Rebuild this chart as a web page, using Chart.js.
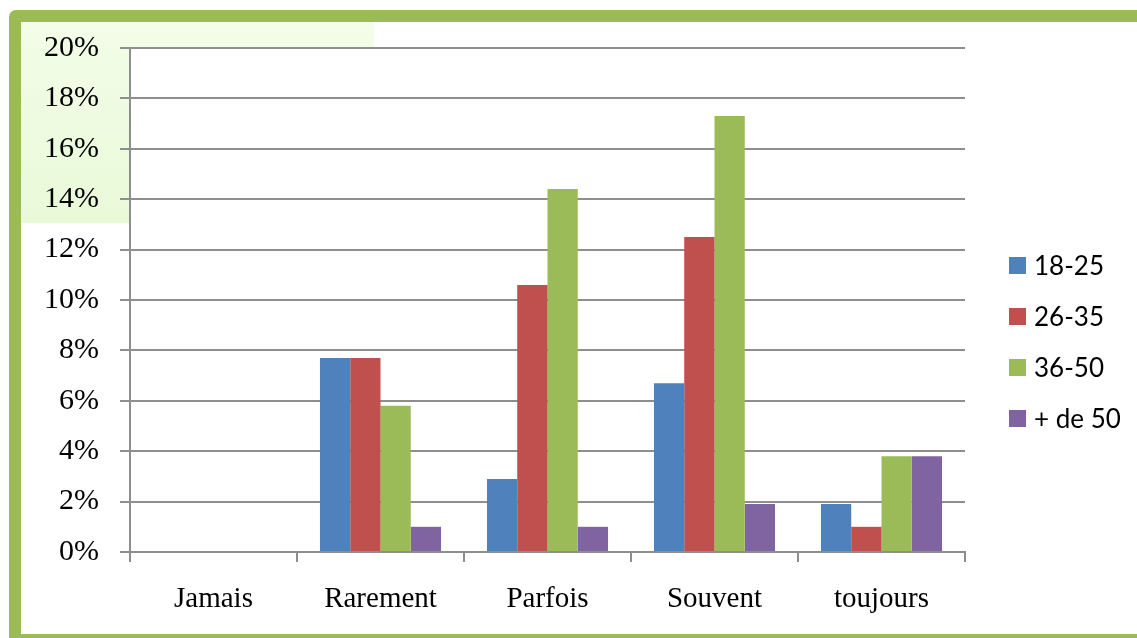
<!DOCTYPE html>
<html>
<head>
<meta charset="utf-8">
<script src="https://cdn.jsdelivr.net/npm/chart.js@4.4.1/dist/chart.umd.min.js"></script>
<style>
  html, body { margin: 0; padding: 0; background: #ffffff; overflow: hidden; }
  #wrap { position: relative; width: 1137px; height: 638px; overflow: hidden; }
  #frame {
    position: absolute; left: 9px; top: 10px; right: -20px; bottom: -8px;
    border: 12px solid #9bbb59; border-radius: 7px; box-sizing: border-box;
  }
  #shade {
    position: absolute; left: 21px; top: 22px; width: 353px; height: 201px;
    background: linear-gradient(to bottom, #f3fde8, #e9f9d8);
  }
  #holder { position: absolute; left: 0; top: 0; width: 1137px; height: 638px; }
</style>
</head>
<body>
<div id="wrap">
  <div id="frame"></div>
  <div id="shade"></div>
  <div id="holder"><canvas id="c"></canvas></div>
</div>
<script>
// Frequency categories and age groups
const categories = ['Jamais', 'Rarement', 'Parfois', 'Souvent', 'toujours'];
const seriesLabels = ['18-25', '26-35', '36-50', '+ de 50'];
const seriesColors = ['#4f81bd', '#c0504d', '#9bbb59', '#8064a2'];

// Share of respondents (%) per category, one array per age group
const age18to25 = [0, 7.7, 2.9, 6.7, 1.9];
const age26to35 = [0, 7.7, 10.6, 12.5, 1.0];
const age36to50 = [0, 5.8, 14.4, 17.3, 3.8];
const age50plus = [0, 1.0, 1.0, 1.9, 3.8];

const seriesValues = [age18to25, age26to35, age36to50, age50plus];

const yMin = 0, yMax = 20, yStep = 2;

const gridColor = '#8e8e8e';

// White plot background over the shaded panel
const plotBackground = {
  id: 'plotBackground',
  beforeDraw(chart) {
    const { ctx, chartArea: a } = chart;
    ctx.save();
    ctx.fillStyle = '#ffffff';
    ctx.fillRect(a.left, a.top, a.right - a.left, a.bottom - a.top);
    ctx.restore();
  }
};

// Legend drawn to the right of the plot
const sideLegend = {
  id: 'sideLegend',
  afterDraw(chart) {
    const ctx = chart.ctx;
    ctx.save();
    ctx.font = '26px Lato, "Open Sans", sans-serif';
    ctx.textBaseline = 'middle';
    ctx.textAlign = 'left';
    chart.data.datasets.forEach((ds, i) => {
      const cy = 265.5 + i * 51;
      ctx.fillStyle = ds.backgroundColor;
      ctx.fillRect(1009, cy - 8.5, 17, 17);
      ctx.fillStyle = '#000000';
      ctx.fillText(ds.label, 1034, cy + 1);
    });
    ctx.restore();
  }
};

new Chart(document.getElementById('c'), {
  type: 'bar',
  data: {
    labels: categories,
    datasets: seriesLabels.map((label, i) => ({
      label: label,
      data: seriesValues[i],
      backgroundColor: seriesColors[i],
      borderWidth: 0,
      categoryPercentage: 0.725,
      barPercentage: 1.0
    }))
  },
  options: {
    responsive: true,
    maintainAspectRatio: false,
    animation: false,
    layout: { padding: { top: 48, left: 0, right: 172, bottom: 0 } },
    plugins: {
      legend: { display: false },
      tooltip: { enabled: false }
    },
    scales: {
      x: {
        afterFit(scale) { scale.height = 86; },
        grid: {
          drawOnChartArea: false,
          drawTicks: true,
          tickLength: 10,
          color: gridColor,
          lineWidth: 2
        },
        border: { display: true, color: gridColor, width: 2 },
        ticks: {
          color: '#000000',
          padding: 20,
          font: { family: '"Liberation Serif", "Times New Roman", serif', size: 29 }
        }
      },
      y: {
        min: yMin,
        max: yMax,
        afterFit(scale) { scale.width = 130; },
        grid: {
          color: gridColor,
          lineWidth: 2,
          drawTicks: true,
          tickLength: 10
        },
        border: { display: true, color: gridColor, width: 2 },
        ticks: {
          stepSize: yStep,
          color: '#000000',
          padding: 21,
          font: { family: '"Liberation Serif", "Times New Roman", serif', size: 30 },
          callback: (v) => v + '%'
        }
      }
    }
  },
  plugins: [plotBackground, sideLegend]
});
</script>
</body>
</html>
